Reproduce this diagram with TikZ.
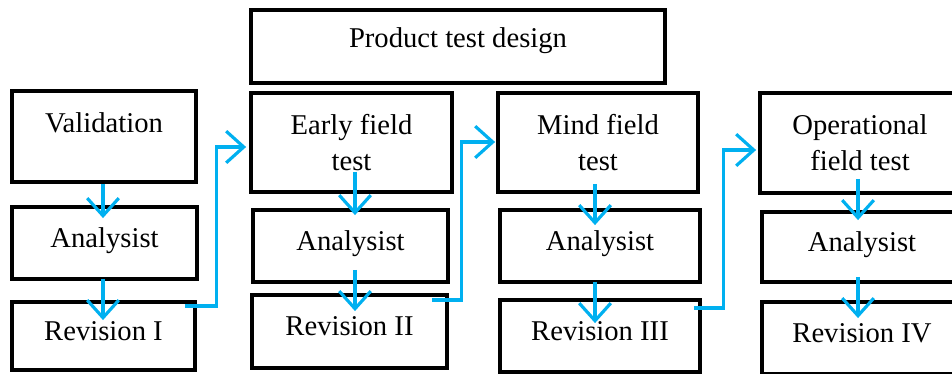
\documentclass[tikz,border=0pt]{standalone}
\usepackage{fontspec}
\setmainfont{Liberation Serif}
\usetikzlibrary{calc,arrows.meta}
\definecolor{flowblue}{RGB}{0,176,240}
\tikzset{
  box/.style={draw, line width=2.2pt, inner sep=0pt, align=center,
    font=\fontsize{16.3}{20.5}\selectfont},
  onebox/.style={box, text depth=6pt},
  flow/.style={draw=flowblue, line width=1.8pt,
    -{Straight Barb[length=10pt,width=18pt]}}
}

\begin{document}
\begin{tikzpicture}[x=0.02cm, y=-0.02cm]
				\useasboundingbox (0,0) rectangle (952,374);
				\clip (0,0) rectangle (952,374);
				
				\node[box, text depth=10pt, minimum width=8.28cm, minimum height=1.46cm] (design) at (458,46.5) {Product test design};
				
				\node[box, text depth=16pt, minimum width=3.68cm, minimum height=1.82cm] (val) at (104,136.5) {Validation};
				\node[onebox, minimum width=3.7cm, minimum height=1.44cm] (ana1) at (104.5,243) {Analysist};
				\node[onebox, minimum width=3.66cm, minimum height=1.36cm] (rev1) at (103.5,336) {Revision I};
				
				\node[box, minimum width=4.02cm, minimum height=1.98cm] (early) at (351.5,142.5) {Early field\\test};
				\node[onebox, minimum width=3.9cm, minimum height=1.44cm] (ana2) at (350.5,246) {Analysist};
				\node[onebox, minimum width=3.9cm, minimum height=1.46cm] (rev2) at (349.5,331.5) {Revision II};
				
				\node[box, minimum width=4cm, minimum height=1.98cm] (mind) at (598,142.5) {Mind field\\test};
				\node[onebox, minimum width=4cm, minimum height=1.44cm] (ana3) at (600,246) {Analysist};
				\node[onebox, minimum width=4cm, minimum height=1.44cm] (rev3) at (600,336) {Revision III};
				
				\node[box, minimum width=4cm, minimum height=2cm] (oper) at (860,143) {Operational\\field test};
				\node[onebox, minimum width=4cm, minimum height=1.4cm] (ana4) at (862,247) {Analysist};
				\node[onebox, minimum width=4cm, minimum height=1.44cm] (rev4) at (862,338) {Revision IV};
				
				% down the columns
				\draw[flow] ($(val.south)+(-1,0)$) -- ($(ana1.north)+(-1.5,13)$);
				\draw[flow] ($(ana1.south)+(-1.5,-2)$) -- ($(rev1.north)+(-0.5,20)$);
				\draw[flow] ($(early.south)+(3.5,-22)$) -- ($(ana2.north)+(4.5,7)$);
				\draw[flow] ($(ana2.south)+(4.5,-14)$) -- ($(rev2.north)+(5.5,18)$);
				\draw[flow] ($(mind.south)+(-3,-10)$) -- ($(ana3.north)+(-5,17)$);
				\draw[flow] ($(ana3.south)+(-5,-2)$) -- ($(rev3.north)+(-5,25)$);
				\draw[flow] ($(oper.south)+(-2,-16)$) -- ($(ana4.north)+(-4,10)$);
				\draw[flow] ($(ana4.south)+(-4,-7)$) -- ($(rev4.north)+(-4,18)$);
				
				% on to the next stage
				\draw[flow] ($(rev1.north east)+(-12,6)$) -| ($(early.west)+(-33,4.5)$) -- ($(early.west)+(-3,4.5)$);
				\draw[flow] ($(rev2.north east)+(-17,7)$) -| ($(mind.west)+(-35,-0.5)$) -- ($(mind.west)+(-1,-0.5)$);
				\draw[flow] ($(rev3.north east)+(-8,10)$) -| ($(oper.west)+(-35,7)$) -- ($(oper.west)+(-2,7)$);
\end{tikzpicture}
\end{document}
